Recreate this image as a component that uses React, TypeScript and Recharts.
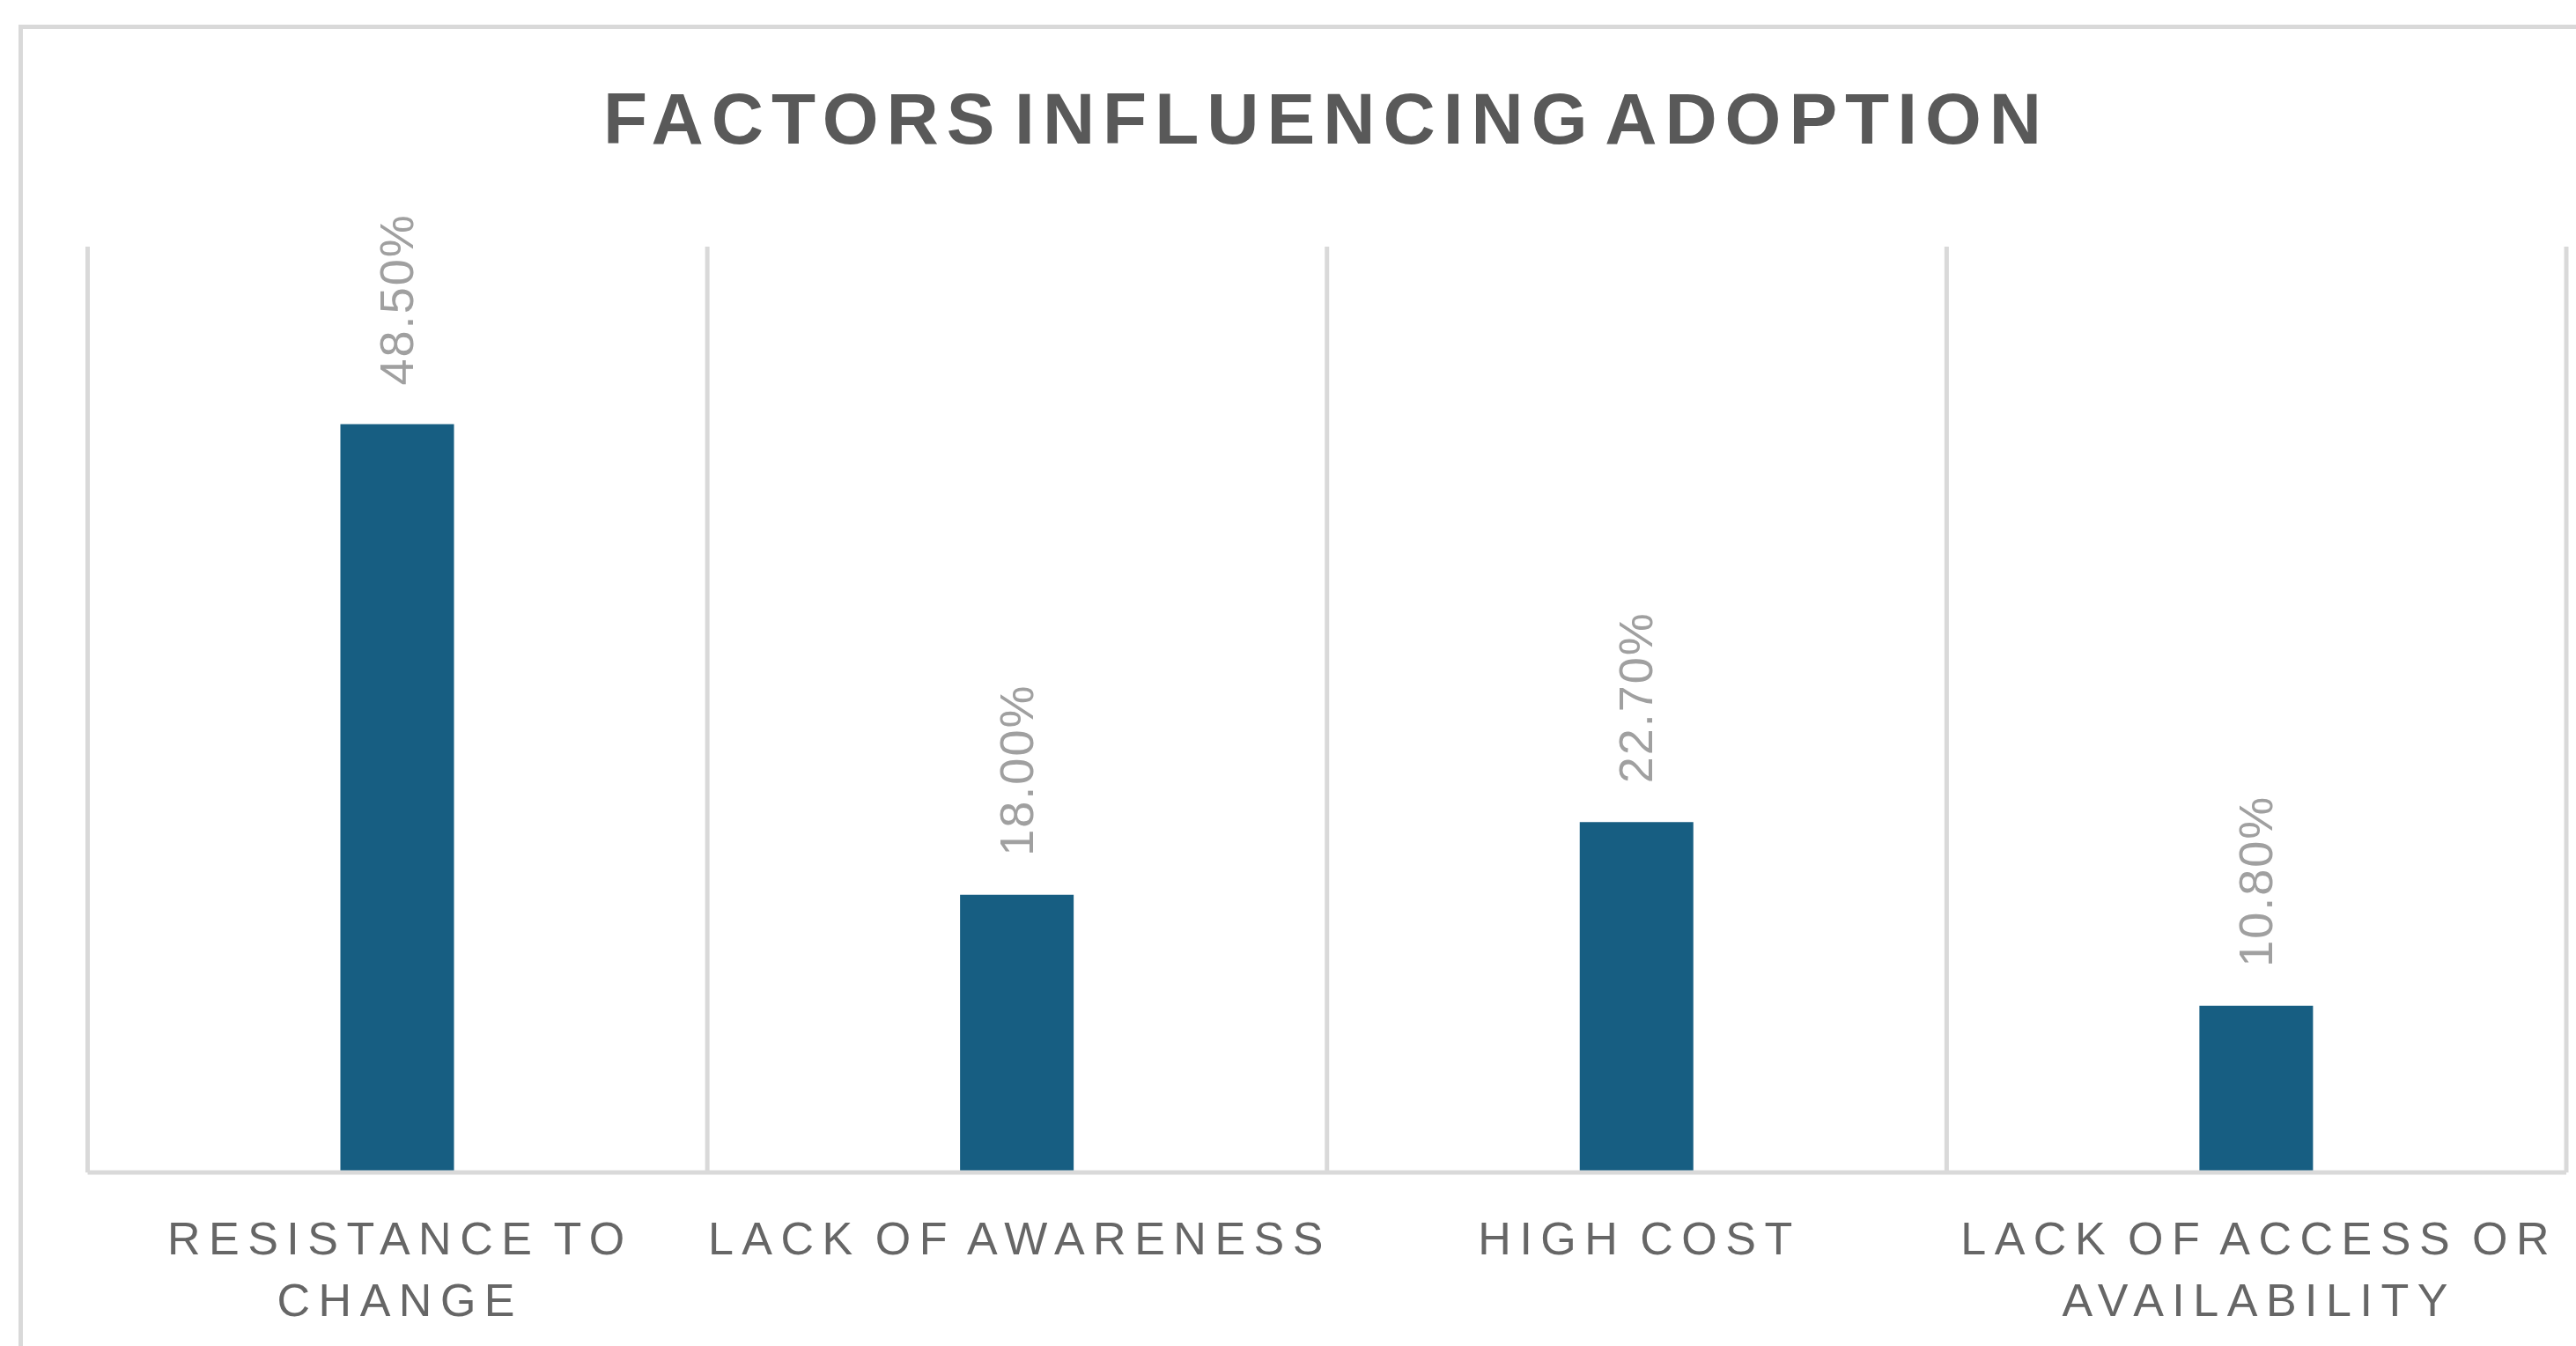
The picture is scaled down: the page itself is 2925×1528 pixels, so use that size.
import React from "react";
import { BarChart, Bar, XAxis, YAxis, CartesianGrid, LabelList } from "recharts";

const categories = [
  "RESISTANCE TO CHANGE",
  "LACK OF AWARENESS",
  "HIGH COST",
  "LACK OF ACCESS OR AVAILABILITY",
];
const values = [48.5, 18.0, 22.7, 10.8];
const tickLines = [
  ["RESISTANCE TO", "CHANGE"],
  ["LACK OF AWARENESS"],
  ["HIGH COST"],
  ["LACK OF ACCESS OR", "AVAILABILITY"],
];
const title = "FACTORS INFLUENCING ADOPTION";

const data = categories.map((name, i) => ({ name, value: values[i] }));

const FONT = "'Liberation Sans', Arial, sans-serif";
const GRID = "#d9d9d9";

const CategoryTick = (props: any) => {
  const { x, y, payload } = props;
  const idx = payload && typeof payload.index === "number" ? payload.index : categories.indexOf(payload.value);
  const lines = tickLines[idx] || [String(payload.value)];
  return (
    <text
      textAnchor="middle"
      fontFamily={FONT}
      fontSize={52}
      fill="#666666"
      style={{ letterSpacing: "9.5px", wordSpacing: "-8px" }}
    >
      {lines.map((ln, i) => (
        <tspan key={i} x={x + 3} y={y + 91 + i * 70}>
          {ln}
        </tspan>
      ))}
    </text>
  );
};

const ValueLabel = (props: any) => {
  const { x, y, width, value } = props;
  const cx = Number(x) + Number(width) / 2 + 18;
  const ty = Number(y) - 44;
  return (
    <text
      x={cx}
      y={ty}
      transform={`rotate(-90, ${cx}, ${ty})`}
      textAnchor="start"
      fontFamily={FONT}
      fontSize={54}
      fill="#a0a0a0"
      style={{ letterSpacing: "2px" }}
    >
      {Number(value).toFixed(2) + "%"}
    </text>
  );
};

const verticalLines = ({ offset }: any) => {
  const n = categories.length;
  return Array.from({ length: n + 1 }, (_, i) => offset.left + (i * offset.width) / n);
};

export default function App() {
  return (
    <div style={{ position: "absolute", left: 0, top: 0, width: 2925, height: 1528, background: "#fff", overflow: "hidden" }}>
      <svg width={2925} height={1528} style={{ position: "absolute", left: 0, top: 0 }}>
        <rect x={23.5} y={30.5} width={3200} height={2000} fill="#fff" stroke={GRID} strokeWidth={5} />
        <text
          x={1506}
          y={163}
          textAnchor="middle"
          fontFamily={FONT}
          fontWeight="bold"
          fontSize={82}
          fill="#595959"
          style={{ letterSpacing: "9px", wordSpacing: "-18px" }}
        >
          {title}
        </text>
      </svg>
      <div style={{ position: "absolute", left: 0, top: 0 }}>
        <BarChart
          width={2925}
          height={1528}
          data={data}
          margin={{ top: 280, right: 11, bottom: 97, left: 99.5 }}
        >
          <CartesianGrid
            horizontal={false}
            vertical={true}
            stroke={GRID}
            strokeWidth={5}
            verticalCoordinatesGenerator={verticalLines}
          />
          <YAxis hide domain={[0, 60]} />
          <XAxis
            dataKey="name"
            height={100}
            interval={0}
            tickLine={false}
            tickSize={0}
            axisLine={{ stroke: GRID, strokeWidth: 5 }}
            tick={<CategoryTick />}
          />
          <Bar dataKey="value" fill="#175e82" barSize={129} isAnimationActive={false}>
            <LabelList dataKey="value" content={<ValueLabel />} />
          </Bar>
        </BarChart>
      </div>
    </div>
  );
}
